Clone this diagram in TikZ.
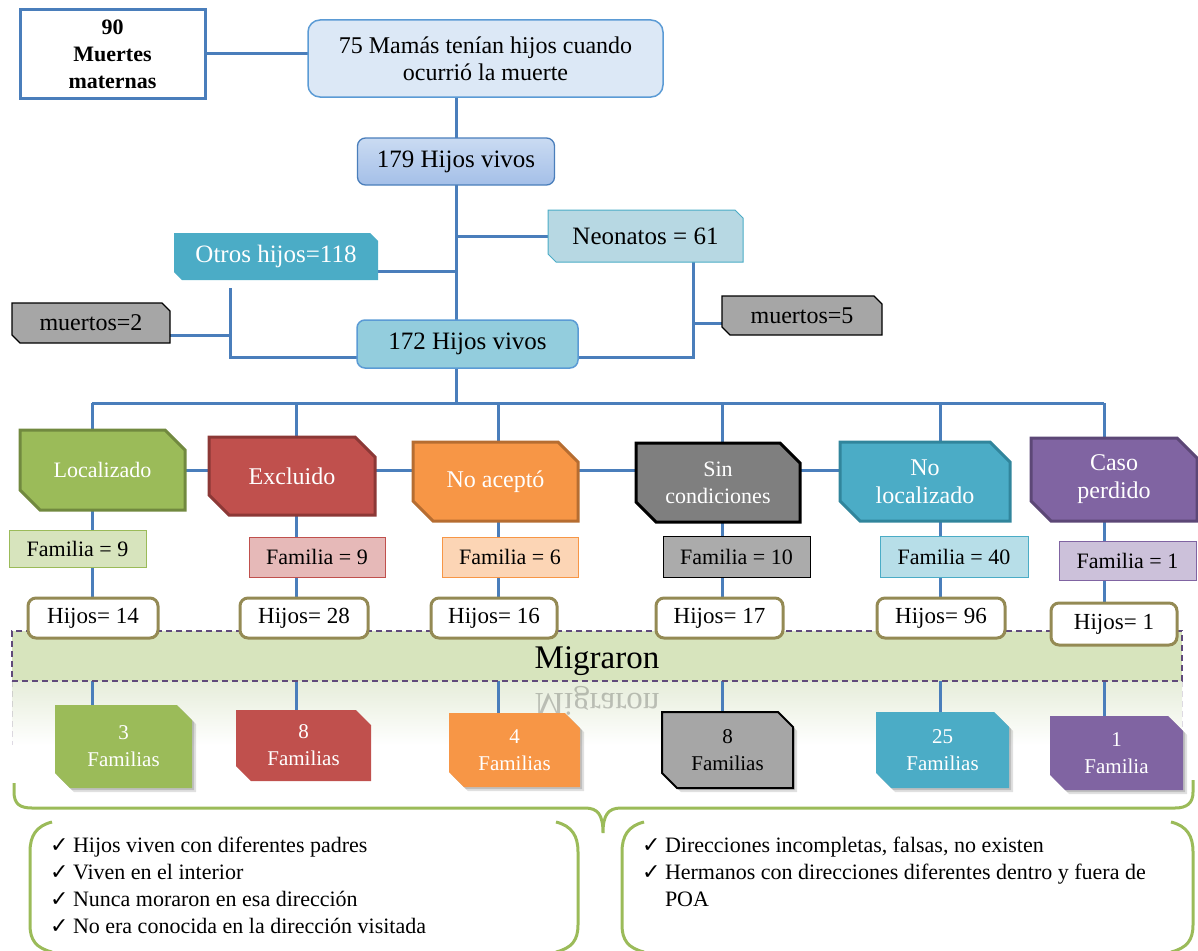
\documentclass[tikz,border=0pt]{standalone}
\usepackage{fontspec}
\setmainfont{Liberation Serif}
\newfontfamily\symf{DejaVu Sans}
\pgfdeclarelayer{refl}\pgfdeclarelayer{lines}\pgfdeclarelayer{bg}
\pgfsetlayers{refl,lines,bg,main}
\definecolor{lineblue}{HTML}{4A7EBB}
\definecolor{mamafill}{HTML}{DCE8F6}
\definecolor{mamaline}{HTML}{5B9BD5}
\definecolor{hA}{HTML}{CADBF2}
\definecolor{hB}{HTML}{A4BFE8}
\definecolor{neofill}{HTML}{B7D8E3}
\definecolor{teal}{HTML}{4BACC6}
\definecolor{grayf}{HTML}{A6A6A6}
\definecolor{hsfill}{HTML}{93CDDD}
\definecolor{green}{HTML}{9BBB59}\definecolor{greenD}{HTML}{71893F}
\definecolor{red}{HTML}{C0504D}\definecolor{redD}{HTML}{8C3836}
\definecolor{orange}{HTML}{F79646}\definecolor{orangeD}{HTML}{B66D31}
\definecolor{grayc}{HTML}{7F7F7F}
\definecolor{tealD}{HTML}{31859C}
\definecolor{purple}{HTML}{8064A2}\definecolor{purpleD}{HTML}{5C4776}
\definecolor{fgreen}{HTML}{D7E4BD}\definecolor{fred}{HTML}{E6B9B8}
\definecolor{forange}{HTML}{FCD5B5}\definecolor{fgray}{HTML}{ABABAB}
\definecolor{fteal}{HTML}{B7DEE8}\definecolor{fpurple}{HTML}{CCC1DA}
\definecolor{olive}{HTML}{948A54}
\definecolor{bandline}{HTML}{604A7B}
\definecolor{reflg}{HTML}{E6EDDA}
\newcommand\fsz[2]{\fontsize{#1}{#2}\selectfont}
\newcommand\snipit[3]{%
  \begin{pgfonlayer}{bg}
  \path[#3] (#1.north west) -- ([xshift=-#2pt]#1.north east) -- ([yshift=-#2pt]#1.north east)
    -- (#1.south east) -- ([xshift=#2pt]#1.south west) -- ([yshift=#2pt]#1.south west) -- cycle;
  \end{pgfonlayer}}
\newcommand\snipshadow[2]{%
  \begin{pgfonlayer}{bg}
  \fill[black,opacity=.12,transform canvas={shift={(4pt,-4pt)}}] (#1.north west) -- ([xshift=-#2pt]#1.north east) -- ([yshift=-#2pt]#1.north east)
    -- (#1.south east) -- ([xshift=#2pt]#1.south west) -- ([yshift=#2pt]#1.south west) -- cycle;
  \fill[black,opacity=.15,transform canvas={shift={(2pt,-2pt)}}] (#1.north west) -- ([xshift=-#2pt]#1.north east) -- ([yshift=-#2pt]#1.north east)
    -- (#1.south east) -- ([xshift=#2pt]#1.south west) -- ([yshift=#2pt]#1.south west) -- cycle;
  \end{pgfonlayer}}
\newcommand\chk{\makebox[23pt][l]{\symf\fsz{22}{22}✓}}
\tikzset{
  box/.style={inner sep=0pt, outer sep=0pt, align=center},
  conn/.style={draw=lineblue, line width=3pt},
  cat/.style={box, text=white, font=\fsz{24}{28}},
  fam/.style={box, draw, line width=1pt, font=\fsz{22}{25}},
  hijo/.style={box, draw=olive, line width=3pt, fill=white, rounded corners=8pt, font=\fsz{23}{25}},
  famb/.style={box, font=\fsz{21}{27}},
  brace/.style={draw=green, line width=3pt},
}
\begin{document}
\begin{tikzpicture}[x=1pt,y=-1pt]
\useasboundingbox (0,0) rectangle (1198,950);
% top
\node[box, minimum width=185, minimum height=88, draw=lineblue, line width=3pt, fill=white, font=\bfseries\fsz{22}{27}] (m90) at (112.5,54) {90\\Muertes\\maternas};
\node[box, minimum width=355, minimum height=77, rounded corners=12pt, draw=mamaline, line width=1.5pt, fill=mamafill, font=\fsz{24}{27}] (mamas) at (485.5,58.5) {75 Mamás tenían hijos cuando\\ocurrió la muerte};
\node[box, minimum width=197, minimum height=47, rounded corners=8pt, draw=lineblue, line width=1.3pt, top color=hA, bottom color=hB, font=\fsz{25}{28}] (h179) at (456,161.5) {179 Hijos vivos};
\node[box, minimum width=195, minimum height=52, font=\fsz{25}{28}] (neo) at (645.5,236) {Neonatos = 61};
\snipit{neo}{8}{fill=neofill, draw=teal, line width=1pt}
\node[box, minimum width=204, minimum height=47, text=white, font=\fsz{25}{28}] (otros) at (276,256.5) {Otros hijos=118};
\snipit{otros}{8}{fill=teal}
\node[box, minimum width=158, minimum height=40, font=\fsz{24}{28}] (m2) at (91,323) {muertos=2};
\snipit{m2}{8}{fill=grayf, draw=black, line width=1.2pt}
\node[box, minimum width=160, minimum height=39, font=\fsz{24}{28}] (m5) at (802,315.5) {muertos=5};
\snipit{m5}{8}{fill=grayf, draw=black, line width=1.2pt}
\node[box, minimum width=221, minimum height=48, rounded corners=8pt, draw=mamaline, line width=1.5pt, fill=hsfill, font=\fsz{25}{28}] (h172) at (467.5,344) {172 Hijos vivos};
% categories
\node[cat, minimum width=165, minimum height=80, font=\fsz{22}{27}] (loc) at (102.5,470) {Localizado};
\snipit{loc}{20}{fill=green, draw=greenD, line width=3pt}
\node[cat, minimum width=166, minimum height=78] (exc) at (292,476) {Excluido};
\snipit{exc}{20}{fill=red, draw=redD, line width=3pt}
\node[cat, minimum width=165, minimum height=79] (noa) at (495.5,481.5) {No aceptó};
\snipit{noa}{20}{fill=orange, draw=orangeD, line width=3pt}
\node[cat, minimum width=164, minimum height=79, font=\fsz{22}{27}] (sin) at (718,482.5) {Sin\\condiciones};
\snipit{sin}{20}{fill=grayc, draw=black, line width=3pt}
\node[cat, minimum width=170, minimum height=79] (nol) at (925,481.5) {No\\localizado};
\snipit{nol}{20}{fill=teal, draw=tealD, line width=3pt}
\node[cat, minimum width=166, minimum height=83] (cas) at (1114,479.5) {Caso\\perdido};
\snipit{cas}{20}{fill=purple, draw=purpleD, line width=3pt}
% familia
\node[fam, minimum width=137, minimum height=37, fill=fgreen, draw=green] (f1) at (77.5,548.5) {Familia = 9};
\node[fam, minimum width=136, minimum height=40, fill=fred, draw=red] (f2) at (317,557) {Familia = 9};
\node[fam, minimum width=136, minimum height=40, fill=forange, draw=orange] (f3) at (510,557) {Familia = 6};
\node[fam, minimum width=147, minimum height=41, fill=fgray, draw=black] (f4) at (736.5,556.5) {Familia = 10};
\node[fam, minimum width=148, minimum height=41, fill=fteal, draw=teal] (f5) at (954,556.5) {Familia = 40};
\node[fam, minimum width=137, minimum height=39, fill=fpurple, draw=purple] (f6) at (1127.5,560.5) {Familia = 1};
% band
\begin{pgfonlayer}{bg}
\node[box, minimum width=1170, minimum height=50, fill=fgreen, draw=bandline, line width=1.3pt, dash pattern=on 6pt off 4pt] (mig) at (597,656) {};
\end{pgfonlayer}
\node[box, font=\fsz{33}{33}] (migt) at (597,661) {Migraron};
% hijos
\node[hijo, minimum width=130, minimum height=40] (h1) at (93,618) {Hijos= 14};
\node[hijo, minimum width=128, minimum height=40] (h2) at (304,618) {Hijos= 28};
\node[hijo, minimum width=126, minimum height=40] (h3) at (494,618) {Hijos= 16};
\node[hijo, minimum width=127, minimum height=40] (h4) at (719.5,618) {Hijos= 17};
\node[hijo, minimum width=128, minimum height=40] (h5) at (941,618) {Hijos= 96};
\node[hijo, minimum width=126, minimum height=42] (h6) at (1114,624) {Hijos= 1};
% family result boxes
\node[famb, minimum width=137, minimum height=83, text=white] (F1) at (123.5,746.5) {3\\Familias};
\snipshadow{F1}{15}\snipit{F1}{15}{fill=green}
\node[famb, minimum width=135, minimum height=71, text=white] (F2) at (303.5,745.5) {8\\Familias};
\snipit{F2}{15}{fill=red}
\node[famb, minimum width=131, minimum height=74, text=white] (F3) at (514.5,750) {4\\Familias};
\snipshadow{F3}{15}\snipit{F3}{15}{fill=orange}
\node[famb, minimum width=131, minimum height=76] (F4) at (727.5,750) {8\\Familias};
\snipshadow{F4}{15}\snipit{F4}{15}{fill=grayf, draw=black, line width=2pt}
\node[famb, minimum width=133, minimum height=76, text=white] (F5) at (942.5,750) {25\\Familias};
\snipshadow{F5}{15}\snipit{F5}{15}{fill=teal}
\node[famb, minimum width=133, minimum height=74, text=white] (F6) at (1116.5,753) {1\\Familia};
\snipshadow{F6}{15}\snipit{F6}{15}{fill=purple}
% reflection
\begin{pgfonlayer}{refl}
\fill[top color=reflg, bottom color=white] (12,681) rectangle (1182,745);
\draw[bandline, opacity=.2, line width=1pt, dash pattern=on 6pt off 4pt] (12,681) -- (12,745) (1182,681) -- (1182,745);
\begin{scope}
\clip (12,681) rectangle (1182,716);
\node[box, font=\fsz{33}{33}, opacity=.22, yscale=-1, transform shape] (migr) at (597,701) {Migraron};
\end{scope}
\end{pgfonlayer}
% connectors
\begin{pgfonlayer}{lines}
\draw[conn] (m90.east) -- (m90.east -| mamas.west);
\draw[conn] (h179.north |- mamas.south) -- (h179.north);
\coordinate (hub) at (456,403);
\draw[conn] (h179.south) -- (hub);
\draw[conn] (h179.south |- neo.west) -- (neo.west);
\coordinate (jo) at (456,271);
\draw[conn] (jo) -- (jo -| otros.east);
\coordinate (jl) at (230,288);
\draw[conn] (jl) |- ([yshift=-13pt]h172.west);
\coordinate (jm2) at (230,335);
\draw[conn] (jm2) -- (jm2 -| m2.east);
\coordinate (jn) at (693,262);
\draw[conn] (jn) |- ([yshift=-13pt]h172.east);
\coordinate (jm5) at (693,323);
\draw[conn] (jm5) -- (jm5 -| m5.west);
\coordinate (b1) at (92,403);\coordinate (b2) at (296,403);\coordinate (b3) at (498,403);
\coordinate (b4) at (722,403);\coordinate (b5) at (940,403);\coordinate (b6) at (1104,403);
\draw[conn] (b1) -- (b6);
\draw[conn] (b1) -- (b1 |- F1.north);
\draw[conn] (b2) -- (b2 |- F2.north);
\draw[conn] (b3) -- (b3 |- F3.north);
\draw[conn] (b4) -- (b4 |- F4.north);
\draw[conn] (b5) -- (b5 |- F5.north);
\draw[conn] (b6) -- (b6 |- F6.north);
\draw[conn] (loc.east) -- (loc.east -| nol.west);
\end{pgfonlayer}
% brace
\draw[brace] (14,783) -- (14,792) .. controls (14,804) and (20,808) .. (32,808) -- (585,808)
  .. controls (598,808) and (603,815) .. (603,833) .. controls (603,815) and (608,808) .. (621,808)
  -- (1175,808) .. controls (1187,808) and (1193,803) .. (1193,792) -- (1193,780);
% bracket boxes
\draw[brace] (52,822) .. controls (36,826) and (30,836) .. (30,852) -- (30,925) .. controls (30,940) and (36,948) .. (52,952);
\draw[brace] (556,822) .. controls (572,826) and (578,836) .. (578,852) -- (578,925) .. controls (578,940) and (572,948) .. (556,952);
\draw[brace] (644,822) .. controls (628,826) and (622,836) .. (622,852) -- (622,925) .. controls (622,940) and (628,948) .. (644,952);
\draw[brace] (1171,822) .. controls (1187,826) and (1193,836) .. (1193,852) -- (1193,925) .. controls (1193,940) and (1187,948) .. (1171,952);
\node[box, align=left, anchor=north west, font=\fsz{22}{27}] (tl) at (50,837)
  {\chk Hijos viven con diferentes padres\\\chk Viven en el interior\\\chk Nunca moraron en esa dirección\\\chk No era conocida en la dirección visitada};
\node[box, align=left, anchor=north west, font=\fsz{22}{27}] (tr) at (642,837)
  {\chk Direcciones incompletas, falsas, no existen\\\chk Hermanos con direcciones diferentes dentro y fuera de\\\hspace*{23pt}POA};
\end{tikzpicture}
\end{document}
